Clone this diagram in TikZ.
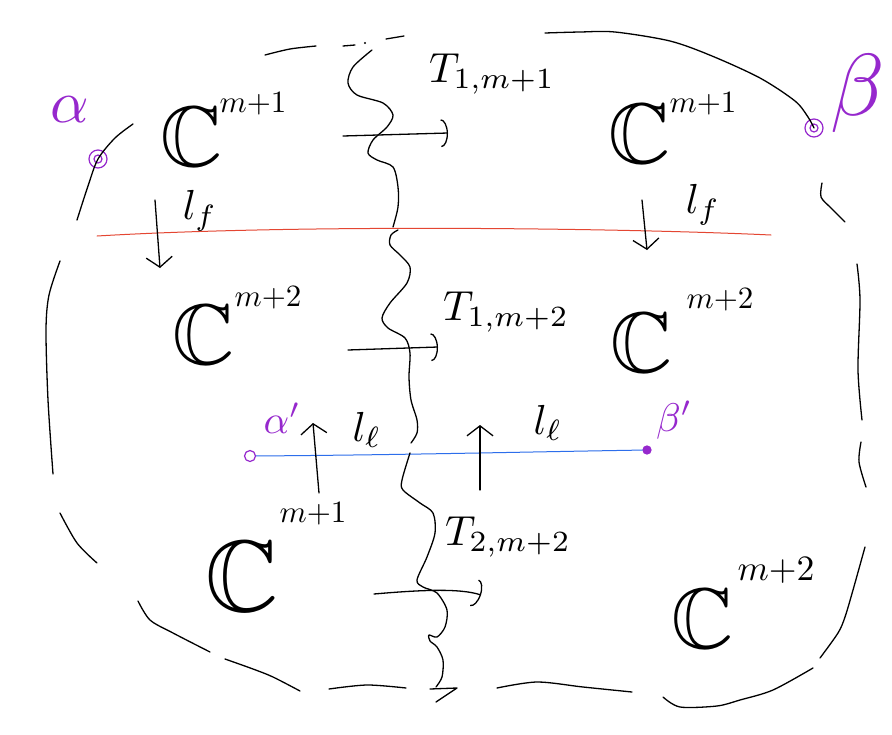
\documentclass[tikz,border=0pt]{standalone}
\usepackage{amssymb}
\usetikzlibrary{arrows.meta}
\definecolor{inkpurple}{RGB}{150,40,205}
\definecolor{inkred}{RGB}{228,70,50}
\definecolor{inkblue}{RGB}{45,110,235}
\tikzset{
  ink/.style={line width=1.3pt, line cap=round, line join=round},
  bigC/.style={inner sep=0pt, scale=8.6},
  supl/.style={inner sep=0pt, scale=3.1},
  lbl/.style={inner sep=0pt, scale=4.2},
  grk/.style={inner sep=0pt, text=inkpurple},
  dotmark/.style={circle, draw=inkpurple, line width=1.2pt, inner sep=0pt},
  tarrow/.style={ink, -{Arc Barb[length=7pt,width=28pt,line width=1.3pt]}},
  larrow/.style={ink, -{Straight Barb[length=10pt,width=26pt,line width=1.3pt]}}
}
\begin{document}
\begin{tikzpicture}[x=1pt,y=-1pt]
\useasboundingbox (0,0) rectangle (892,734);
\fill[white] (0,0) rectangle (892,734);

% ---- purple points ----
\node[dotmark, minimum size=18pt] (dA) at (98,159) {};
\node[dotmark, minimum size=8pt] at (98,159) {};
\node[dotmark, minimum size=18pt] (dB) at (814,128) {};
\node[dotmark, minimum size=8pt] at (814,128) {};
\node[dotmark, minimum size=11pt] (dAp) at (250,456) {};
\node[dotmark, fill=inkpurple, minimum size=8pt] (dBp) at (647,450) {};

% ---- labels of points ----
\node[grk, scale=6] (la) at (70,110) {$\alpha$};
\node[grk, scale=8.8] (lb) at (858,93) {$\beta$};
\node[grk, scale=4] (lap) at (282,418) {$\alpha'$};
\node[grk, scale=4] (lbp) at (674,420) {$\beta'$};

% ---- red and blue lines ----
\coordinate (rL) at (97,236);
\coordinate (rR) at (771,235);
\draw[ink, inkred, line width=1pt] (rL) .. controls (300,224) and (620,228) .. (rR);
\draw[ink, inkblue, line width=1pt] (dAp) .. controls (400,455) and (520,452) .. (dBp);

% ---- dashed boundary (hand drawn pieces) ----
\draw[ink] plot[smooth] coordinates {(265,55) (290,49) (316,46)};
\draw[ink] (343,46) -- (355,45);
\fill (365,43) circle (1.2pt);
\draw[ink] (386,39) -- (404,36);
\draw[ink] plot[smooth] coordinates {(545,33) (580,32) (615,32) (670,41) (712,56) (760,78) (795,101) (808,117) (814,128)};
\draw[ink] plot[smooth] coordinates {(133,124) (115,138) (98,159) (88,186) (77,220)};
\draw[ink] plot[smooth] coordinates {(822,183) (821,197) (831,208) (845,222)};
\draw[ink] plot[smooth] coordinates {(60,261) (49,295) (46,330) (48,400) (53,474)};
\draw[ink] plot[smooth] coordinates {(857,264) (860,300) (858,370) (862,420)};
\draw[ink] plot[smooth] coordinates {(861,442) (859,462) (866,487)};
\draw[ink] plot[smooth] coordinates {(865,547) (853,590) (845,617) (838,633) (820,658)};
\draw[ink] plot[smooth] coordinates {(813,668) (773,690) (740,700) (717,706) (680,707) (663,697)};
\draw[ink] plot[smooth] coordinates {(497,688) (537,682) (583,687) (632,692)};
\draw[ink] plot[smooth] coordinates {(329,689) (367,685) (406,688)};
\draw[ink] plot[smooth] coordinates {(225,659) (253,669) (273,677) (300,691)};
\draw[ink] plot[smooth] coordinates {(138,601) (150,620) (173,633) (210,652)};
\draw[ink] plot[smooth] coordinates {(60,513) (77,543) (97,563)};
\draw[ink] (430,689) -- (457,688) -- (436,702);

% ---- wavy vertical line ----
\draw[ink] plot[smooth] coordinates {(372,50) (353,67) (348,83) (357,95) (383,103) (393,115) (387,127) (373,140) (368,153) (377,160) (393,167) (398,187) (398,207) (393,227)};
\draw[ink] plot[smooth] coordinates {(398,230) (391,235) (390,245) (400,255) (410,267) (407,283) (390,303) (382,318) (388,328) (405,338) (410,353) (409,377) (411,400) (417,420) (417,433) (411,443)};
\draw[ink] plot[smooth] coordinates {(410,453) (402,480) (403,490) (420,503) (433,513) (435,533) (427,557) (417,580) (423,587) (437,593) (447,610) (445,627) (437,637) (429,635) (430,641) (437,647) (443,660) (442,677) (436,687)};

% ---- C labels ----
\node[bigC] (c1) at (192,137) {$\mathbb{C}$};
\node[supl] (s1) at (253,104) {$m{+}1$};
\node[bigC] (c2) at (640,134) {$\mathbb{C}$};
\node[supl] (s2) at (703,104) {$m{+}1$};
\node[bigC] (c3) at (204,335) {$\mathbb{C}$};
\node[supl] (s3) at (268,298) {$m{+}2$};
\node[bigC] (c4) at (642,343) {$\mathbb{C}$};
\node[supl] (s4) at (720,300) {$m{+}2$};
\node[bigC, scale=1.18] (c5) at (242,577) {$\mathbb{C}$};
\node[supl] (s5) at (313,514) {$m{+}1$};
\node[bigC] (c6) at (703,619) {$\mathbb{C}$};
\node[supl, scale=1.15] (s6) at (776,570) {$m{+}2$};

% ---- T labels ----
\node[lbl] (t1) at (492,74) {$T_{1,m+1}$};
\node[lbl] (t2) at (506,312) {$T_{1,m+2}$};
\node[lbl] (t3) at (508,537) {$T_{2,m+2}$};

% ---- l labels ----
\node[lbl] (lf1) at (200,211) {$l_f$};
\node[lbl] (lf2) at (703,205) {$l_f$};
\node[lbl] (ll1) at (367,430) {$l_\ell$};
\node[lbl] (ll2) at (548,423) {$l_\ell$};

% ---- arrows ----
\coordinate (a1s) at (343,136); \coordinate (a1e) at (448,133);
\draw[tarrow] (a1s) -- (a1e);
\coordinate (a2s) at (348,350); \coordinate (a2e) at (438,347);
\draw[tarrow] (a2s) -- (a2e);
\coordinate (a3s) at (374,594); \coordinate (a3e) at (481,595);
\draw[tarrow] (a3s) .. controls (420,590) and (460,588) .. (a3e);

\coordinate (f1s) at (155,200); \coordinate (f1e) at (160,268);
\draw[larrow] (f1s) -- (f1e);
\coordinate (f2s) at (642,200); \coordinate (f2e) at (647,250);
\draw[larrow] (f2s) -- (f2e);
\coordinate (g1s) at (319,493); \coordinate (g1e) at (313,423);
\draw[larrow] (g1s) -- (g1e);
\coordinate (g2s) at (480,490); \coordinate (g2e) at (480,425);
\draw[larrow] (g2s) -- (g2e);
\end{tikzpicture}
\end{document}
